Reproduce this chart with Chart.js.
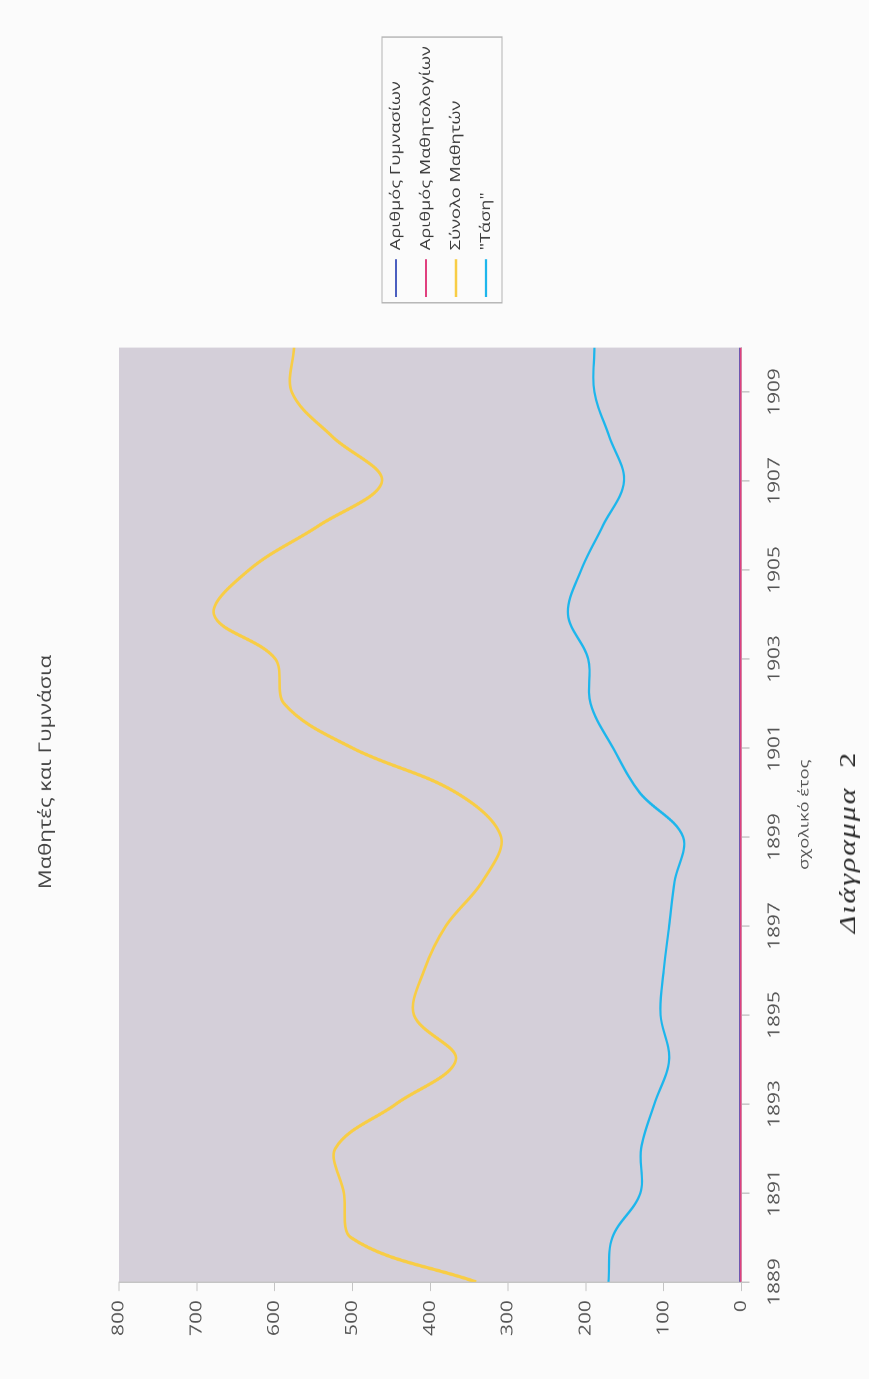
<!DOCTYPE html>
<html>
<head>
<meta charset="utf-8">
<script src="https://cdn.jsdelivr.net/npm/chart.js@4.4.1/dist/chart.umd.min.js"></script>
<style>
  html, body { margin: 0; padding: 0; width: 869px; height: 1379px; overflow: hidden; background: #fbfbfb; }
  #page {
    position: absolute; left: 0; top: 0; width: 1061px; height: 869px;
    transform-origin: 0 0;
    transform: translateY(1379px) rotate(-90deg) scaleX(1.2997);
  }
  #c { position: absolute; left: 0; top: 0; }
  #caption {
    position: absolute; left: 343px; top: 837px;
    font: normal 23px/22px "Liberation Serif", "DejaVu Serif", serif; color: #2a2a2a;
    letter-spacing: 1.5px; white-space: nowrap;
  }
</style>
</head>
<body>
<div id="page">
  <canvas id="c" width="1061" height="869"></canvas>
  <div id="caption"><i>Διάγραμμα</i>&nbsp;&nbsp;2</div>
</div>
<script>
// ---------------- data ----------------
const years = [1889, 1890, 1891, 1892, 1893, 1894, 1895, 1896, 1897, 1898, 1899,
               1900, 1901, 1902, 1903, 1904, 1905, 1906, 1907, 1908, 1909, 1910];
const yearTicks = [1889, 1891, 1893, 1895, 1897, 1899, 1901, 1903, 1905, 1907, 1909];
const gymnasia   = [2, 2, 2, 2, 2, 2, 2, 2, 2, 2, 2, 2, 2, 2, 2, 2, 2, 2, 2, 2, 2, 2];
const registers  = [1, 1, 1, 1, 1, 1, 1, 1, 1, 1, 1, 1, 1, 1, 1, 1, 1, 1, 1, 1, 1, 1];
const totalStudents = [341, 502, 511, 522, 444, 367, 421, 408, 380, 333, 309,
                       367, 500, 588, 599, 678, 633, 543, 462, 526, 578, 575];
const trend = [171, 166, 130, 129, 112, 93, 104, 100, 93, 86, 75,
               131, 165, 194, 197, 223, 206, 178, 151, 170, 189, 189];
const seriesNames = ['Αριθμός Γυμνασίων', 'Αριθμός Μαθητολογίων', 'Σύνολο Μαθητών', '"Τάση"'];
const valueTicks = { min: 0, max: 800, step: 100 };
const chartTitle = 'Μαθητές και Γυμνάσια';
const xTitle = 'σχολικό έτος';

// ---------------- layout / style ----------------
const S = 1379 / 1061;            // horizontal stretch of the scan
const W0 = 1061, H0 = 869;
const AREA_LEFT = 97 / S, AREA_RIGHT = 1031.5 / S, AREA_TOP = 119, AREA_BOTTOM = 741.5;
const TITLE_CX = 607 / S;
const LEGEND_X = 1082 / S, LEGEND_ROW1 = 396;
const FONT = '"Open Sans", "DejaVu Sans", sans-serif';
const PLOT_BG = '#d4cfd9';
const AXIS_COL = '#c4c4c4';
const colors = ['#4b5fc0', '#e0407f', '#f8cd45', '#1db6ec'];
const widths = [2, 2, 2.6, 2.2];
const drawOrder = [1, 0, 2, 3];

const toXY = arr => arr.map((v, i) => ({ x: years[i], y: v }));
const seriesData = [gymnasia, registers, totalStudents, trend];

const plotBg = {
  id: 'plotBg',
  beforeDraw(chart) {
    const { ctx, chartArea: a } = chart;
    ctx.save();
    ctx.fillStyle = PLOT_BG;
    ctx.fillRect(a.left, a.top, a.right - a.left, a.bottom - a.top);
    ctx.restore();
  }
};

const placeBlocks = {
  id: 'placeBlocks',
  afterLayout(chart) {
    const t = chart.titleBlock;
    if (t) {
      const dx = TITLE_CX - (t.left + t.right) / 2;
      t.left += dx; t.right += dx;
    }
    const lg = chart.legend;
    if (lg) {
      const P = lg.options.labels.padding;
      const fs = lg.options.labels.font.size;
      const w = lg.width;
      lg.left = LEGEND_X - P; lg.right = lg.left + w;
      const colH = lg.columnSizes && lg.columnSizes[0] ? lg.columnSizes[0].height : 4 * (fs + P);
      lg.top = LEGEND_ROW1 - fs / 2 - P;
      lg.bottom = lg.top + P + colH;
      lg.height = lg.bottom - lg.top;
    }
  },
  afterDraw(chart) {
    const lg = chart.legend;
    if (!lg || !lg.legendHitBoxes || !lg.legendHitBoxes.length) return;
    const hb = lg.legendHitBoxes;
    const l = Math.min(...hb.map(h => h.left)) - 4.5;
    const r = Math.max(...hb.map(h => h.left + h.width)) + 7;
    const t = hb[0].top - 7;
    const last = hb[hb.length - 1];
    const b = last.top + last.height + 9;
    const ctx = chart.ctx;
    ctx.save();
    ctx.strokeStyle = '#b4b4b4';
    ctx.lineWidth = 1;
    ctx.strokeRect(l, t, r - l, b - t);
    ctx.restore();
  }
};

new Chart(document.getElementById('c'), {
  type: 'line',
  data: {
    datasets: seriesData.map((d, i) => ({
      label: seriesNames[i],
      data: toXY(d),
      borderColor: colors[i],
      backgroundColor: colors[i],
      borderWidth: widths[i],
      pointRadius: 0,
      tension: 0.35,
      fill: false,
      order: drawOrder[i]
    }))
  },
  options: {
    responsive: false,
    devicePixelRatio: 2,
    animation: false,
    events: [],
    layout: { padding: { left: 0, right: W0 - AREA_RIGHT, top: 0, bottom: 0 } },
    scales: {
      x: {
        type: 'linear',
        min: years[0],
        max: years[years.length - 1],
        afterBuildTicks: s => { s.ticks = yearTicks.map(v => ({ value: v })); },
        afterFit: s => { s.height = H0 - AREA_BOTTOM; },
        ticks: {
          autoSkip: false, maxRotation: 0, padding: 16,
          callback: v => String(v),
          font: { family: FONT, size: 16 }, color: '#555'
        },
        grid: { drawOnChartArea: false, tickLength: 8, color: AXIS_COL },
        border: { color: AXIS_COL },
        title: {
          display: true, text: xTitle, color: '#555',
          font: { family: FONT, size: 14 }, padding: { top: 0, bottom: 56 }
        }
      },
      y: {
        min: valueTicks.min, max: valueTicks.max,
        afterFit: s => { s.width = AREA_LEFT; },
        ticks: { stepSize: valueTicks.step, padding: 7, font: { family: FONT, size: 16 }, color: '#555' },
        grid: { drawOnChartArea: false, tickLength: 7, color: AXIS_COL },
        border: { color: AXIS_COL }
      }
    },
    plugins: {
      title: {
        display: true, text: chartTitle, color: '#444',
        font: { family: FONT, size: 17, weight: 'normal' },
        padding: { top: 35.8, bottom: 62.8 }
      },
      legend: {
        position: 'chartArea',
        labels: {
          usePointStyle: true, pointStyle: 'line', pointStyleWidth: 29,
          padding: 16, color: '#3a3a3a',
          font: { family: FONT, size: 14 },
          sort: (a, b) => a.datasetIndex - b.datasetIndex
        }
      },
      tooltip: { enabled: false }
    }
  },
  plugins: [plotBg, placeBlocks]
});
</script>
</body>
</html>
